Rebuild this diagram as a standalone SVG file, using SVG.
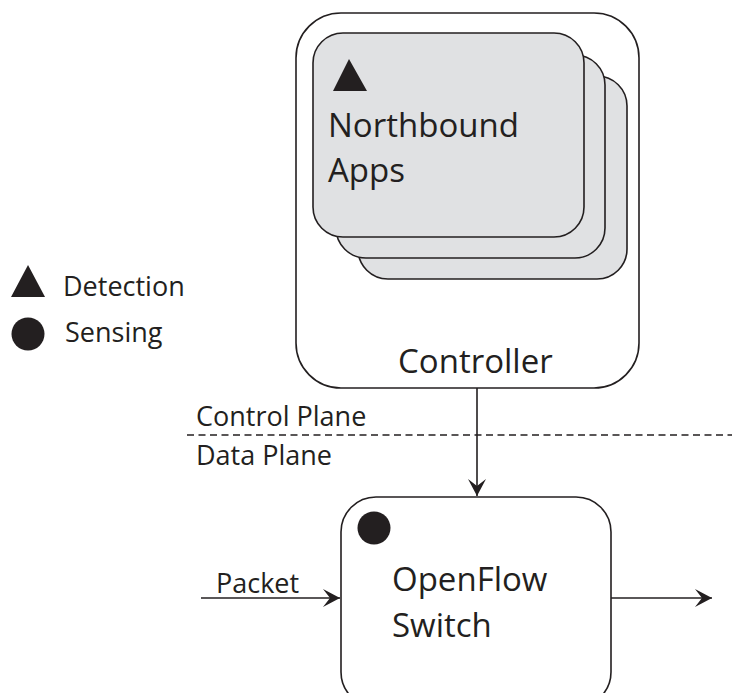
<svg xmlns="http://www.w3.org/2000/svg" width="732" height="693" viewBox="0 0 732 693">
<style>
.box{fill:#fff;stroke:#231f20;stroke-width:1.6}
.card{fill:#e0e1e3;stroke:#231f20;stroke-width:1.6}
.t{font-family:"Open Sans","Noto Sans",sans-serif;fill:#231f20}
.big{font-size:33px}
.sm{font-size:27px}
.ln{stroke:#231f20;stroke-width:1.6;fill:none}
.mk{fill:#231f20}
</style>
<defs>
<marker id="ah" viewBox="-18 -10 20 20" refX="0" refY="0" markerWidth="20" markerHeight="20" markerUnits="userSpaceOnUse" orient="auto">
<path class="mk" d="M0,0 L-17,-9 L-10,0 L-17,9 Z"/>
</marker>
</defs>
<g id="legend">
<polygon class="mk" points="11,297 45,297 28,265"/>
<text class="t sm" x="63" y="296">Detection</text>
<circle class="mk" cx="28" cy="334" r="16.5"/>
<text class="t sm" x="65" y="342">Sensing</text>
</g>
<g id="controller">
<rect class="box" x="296" y="13" width="343" height="375" rx="45"/>
<text class="t big" x="398" y="373">Controller</text>
</g>
<g id="northbound-apps">
<rect class="card" x="358" y="76" width="269" height="203" rx="30"/>
<rect class="card" x="336" y="55" width="269" height="203" rx="30"/>
<rect class="card" x="313" y="33" width="271" height="204" rx="30"/>
<polygon class="mk" points="333,91 367,91 349,59"/>
<text class="t big" x="328" y="137">Northbound</text>
<text class="t big" x="328" y="182">Apps</text>
</g>
<g id="planes">
<text class="t sm" x="196" y="426">Control Plane</text>
<line class="ln" x1="187" y1="435" x2="732" y2="435" stroke-dasharray="7 4.5"/>
<text class="t sm" x="196" y="465">Data Plane</text>
</g>
<g id="switch">
<rect class="box" x="341" y="497" width="270" height="210" rx="35"/>
<circle class="mk" cx="374" cy="528" r="16.5"/>
<text class="t big" x="392" y="591">OpenFlow</text>
<text class="t big" x="392" y="637">Switch</text>
</g>
<g id="connectors">
<line class="ln" x1="477" y1="388" x2="477" y2="496" marker-end="url(#ah)"/>
<line class="ln" x1="201" y1="598" x2="340" y2="598" marker-end="url(#ah)"/>
<text class="t sm" x="216" y="593">Packet</text>
<line class="ln" x1="611" y1="598" x2="712" y2="598" marker-end="url(#ah)"/>
</g>
</svg>
